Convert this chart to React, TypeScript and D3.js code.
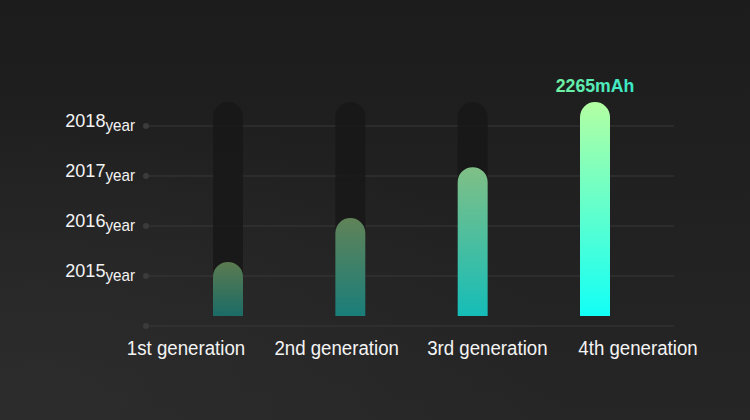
import React from 'react';
import * as d3 from 'd3';

const categories = ['1st generation', '2nd generation', '3rd generation', '4th generation'];
const capacity = [572, 1037, 1575, 2265];
const yearTicks = [2015, 2016, 2017, 2018];
const topLabel = '2265mAh';
const barTopColors = ['#5b7b50', '#608358', '#80bf86', '#b3ffa2'];
const barBottomColors = ['#1b6b66', '#1a7e7a', '#15bdb8', '#12fff6'];

const W = 750;
const H = 420;
const FONT = '"Liberation Sans", Arial, sans-serif';

export default function App() {
  const yearY = d3.scaleLinear().domain([2014, 2018]).range([326, 126]);
  const valY = d3.scaleLinear().domain([0, 2265]).range([316, 102]);
  const barX = d3.scalePoint<string>().domain(categories).range([228, 595]);
  const labelX = d3.scalePoint<string>().domain(categories).range([186, 638]);
  const barW = 30;
  const r = barW / 2;
  const gridX0 = 146;
  const gridX1 = 674;
  const allTicks = [2014, ...yearTicks];

  const barPath = (cx: number, top: number, bottom: number) => {
    const x0 = cx - r;
    const x1 = cx + r;
    const h = bottom - top;
    const rr = Math.min(r, h);
    return `M${x0},${bottom}V${top + rr}A${r},${rr} 0 0 1 ${x1},${top + rr}V${bottom}Z`;
  };

  const maxVal = d3.max(capacity) as number;
  const maxIdx = capacity.indexOf(maxVal);

  return (
    <div style={{ position: 'absolute', left: 0, top: 0 }}>
      <svg width={W} height={H} style={{ display: 'block' }}>
        <defs>
          <linearGradient id="bg" x1="0" y1="0" x2="0" y2="1">
            <stop offset="0" stopColor="#1c1c1c" />
            <stop offset="1" stopColor="#262626" />
          </linearGradient>
          <radialGradient id="glow" cx="0.05" cy="0.95" r="0.7">
            <stop offset="0" stopColor="#2e2e2e" stopOpacity="0.8" />
            <stop offset="1" stopColor="#2e2e2e" stopOpacity="0" />
          </radialGradient>
          {categories.map((c, i) => (
            <linearGradient key={c} id={`bar${i}`} x1="0" y1="0" x2="0" y2="1">
              <stop offset="0" stopColor={barTopColors[i]} />
              <stop offset="1" stopColor={barBottomColors[i]} />
            </linearGradient>
          ))}
          <linearGradient id="lbl" x1="0" y1="0" x2="1" y2="0">
            <stop offset="0" stopColor="#72f0a2" />
            <stop offset="1" stopColor="#38e8cc" />
          </linearGradient>
        </defs>
        <rect x={0} y={0} width={W} height={H} fill="url(#bg)" />
        <rect x={0} y={0} width={W} height={H} fill="url(#glow)" />

        {allTicks.map((t) => (
          <g key={t}>
            <line x1={gridX0} x2={gridX1} y1={yearY(t)} y2={yearY(t)} stroke="#393939" strokeWidth={1} />
            <circle cx={gridX0} cy={yearY(t)} r={3} fill="#3b3b3b" />
          </g>
        ))}

        {yearTicks.map((t) => (
          <text key={t} transform={`translate(135,${yearY(t) + 0.5}) scale(0.95,1)`} textAnchor="end" fill="#f4f4f4" fontFamily={FONT}>
            <tspan fontSize={19}>{t}</tspan>
            <tspan fontSize={16} dy={4.5}>year</tspan>
          </text>
        ))}

        {categories.map((c) => (
          <path key={`track-${c}`} d={barPath(barX(c) as number, valY(maxVal), valY(0))} fill="#171717" opacity={0.85} />
        ))}

        {categories.map((c, i) => (
          <path key={`bar-${c}`} d={barPath(barX(c) as number, valY(capacity[i]), valY(0))} fill={`url(#bar${i})`} />
        ))}

        <text
          transform={`translate(${barX(categories[maxIdx]) as number},${valY(maxVal) - 10}) scale(0.93,1)`}
          textAnchor="middle"
          fontFamily={FONT}
          fontWeight="bold"
          fontSize={19}
          fill="url(#lbl)"
        >
          {topLabel}
        </text>

        {categories.map((c) => {
          const x = labelX(c) as number;
          return (
            <text
              key={`lab-${c}`}
              transform={`translate(${x},354.5) scale(0.89,1)`}
              textAnchor="middle"
              fontFamily={FONT}
              fontSize={21}
              fill="#f4f4f4"
            >
              {c}
            </text>
          );
        })}
      </svg>
    </div>
  );
}
